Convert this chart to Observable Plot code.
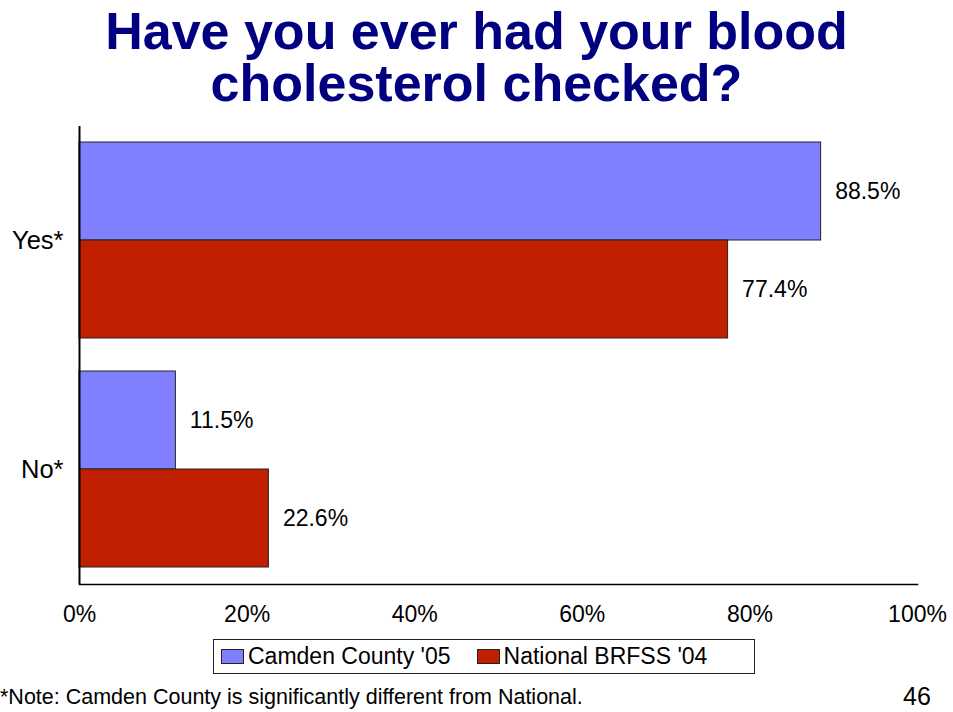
<!DOCTYPE html>
<html>
<head>
<meta charset="utf-8">
<script src="https://cdn.jsdelivr.net/npm/d3@7"></script>
<script src="https://cdn.jsdelivr.net/npm/@observablehq/plot@0.6"></script>
<style>
  html, body { margin: 0; padding: 0; background: #fff; }
  #wrap { position: relative; width: 953px; height: 712px; overflow: hidden; font-family: "Liberation Sans", Arial, sans-serif; color: #000; }
  #title { position: absolute; left: 0; top: 5px; width: 953px; text-align: center; font-weight: bold; font-size: 52px; color: #000080; }
  #title div { height: 52px; line-height: 52px; overflow: visible; }
  #chart { position: absolute; left: 0; top: 120px; }
  #legend { position: absolute; left: 213px; top: 639px; width: 540px; height: 33px; border: 1px solid #222; display: flex; align-items: center; box-sizing: content-box; font-size: 23px; }
  .sw { display: inline-block; width: 21px; height: 13px; border: 1px solid #222; }
  .lab { margin-left: 4px; white-space: nowrap; }
  #note { position: absolute; left: 0px; top: 685px; font-size: 21.5px; line-height: 25px; white-space: nowrap; }
  #page { position: absolute; left: 903px; top: 682px; font-size: 25px; line-height: 28px; }
</style>
</head>
<body>
<div id="wrap">
  <div id="title"><div>Have you ever had your blood</div><div>cholesterol checked?</div></div>
  <div id="chart"></div>
  <div id="legend"></div>
  <div id="note">*Note: Camden County is significantly different from National.</div>
  <div id="page">46</div>
</div>
<script>
const categories = ["Yes*", "No*"];
const series = ["Camden County '05", "National BRFSS '04"];
const camden = [88.5, 11.5];
const national = [77.4, 22.6];
const xTicks = [0, 20, 40, 60, 80, 100];
const colors = ["#8080FF", "#C01F00"];

const rows = [];
categories.forEach((c, i) => {
  rows.push({category: c, series: series[0], value: camden[i]});
  rows.push({category: c, series: series[1], value: national[i]});
});
const first = rows.filter(d => d.series === series[0]);
const second = rows.filter(d => d.series === series[1]);
const half = 98;

const chart = Plot.plot({
  width: 953,
  height: 510,
  marginTop: 6,
  marginBottom: 46,
  marginLeft: 79,
  marginRight: 36,
  style: {fontFamily: "'Liberation Sans', Arial, sans-serif", background: "transparent", color: "#000"},
  x: {domain: [0, 100]},
  y: {domain: categories, paddingInner: 0.144, paddingOuter: 0.072},
  color: {domain: series, range: colors},
  marks: [
    Plot.barX(first, {x: "value", y: "category", fill: "series", stroke: "#222", strokeWidth: 1, insetBottom: half}),
    Plot.barX(second, {x: "value", y: "category", fill: "series", stroke: "#222", strokeWidth: 1, insetTop: half}),
    Plot.text(first, {x: "value", y: "category", text: d => d.value.toFixed(1) + "%", dx: 14, dy: -half / 2, textAnchor: "start", fontSize: 23, fill: "#000"}),
    Plot.text(second, {x: "value", y: "category", text: d => d.value.toFixed(1) + "%", dx: 14, dy: half / 2, textAnchor: "start", fontSize: 23, fill: "#000"}),
    Plot.axisX({ticks: xTicks, tickFormat: d => d + "%", tickSize: 0, tickPadding: 21, fontSize: 23, label: null}),
    Plot.axisY({tickSize: 0, tickPadding: 16, fontSize: 25.5, label: null}),
    Plot.ruleX([0], {stroke: "#000", strokeWidth: 2}),
    Plot.frame({anchor: "bottom", stroke: "#000", strokeWidth: 1.5})
  ]
});
document.getElementById("chart").appendChild(chart);

const legend = document.getElementById("legend");
series.forEach((s, i) => {
  const sw = document.createElement("span");
  sw.className = "sw";
  sw.style.background = colors[i];
  sw.style.marginLeft = i === 0 ? "7px" : "26px";
  const lab = document.createElement("span");
  lab.className = "lab";
  lab.textContent = s;
  legend.appendChild(sw);
  legend.appendChild(lab);
});
</script>
</body>
</html>
